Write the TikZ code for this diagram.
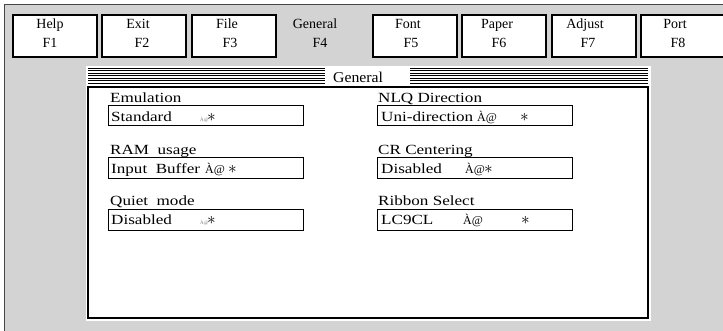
\documentclass[tikz,border=0pt]{standalone}
\usepackage{fontspec}
\setmainfont{Liberation Serif}
\newfontfamily\widefont[FakeStretch=1.22]{Liberation Serif}
\newfontfamily\titlefont[FakeStretch=1.05]{Liberation Serif}
\definecolor{bggray}{RGB}{211,211,211}
\definecolor{framegray}{RGB}{70,70,70}
\definecolor{glyphgray}{RGB}{120,120,120}
\begin{document}
\begin{tikzpicture}[x=1pt,y=-1pt,
  keybox/.style={draw=black, line width=1.5pt, fill=white, minimum width=84pt, minimum height=42pt, inner sep=0pt, anchor=north west},
  keytxt/.style={font=\fontsize{14}{16}\selectfont, anchor=base, inner sep=0pt},
  lbl/.style={font=\widefont\fontsize{14}{16}\selectfont, anchor=base west, inner sep=0pt},
  fieldbox/.style={draw=black, line width=1.3pt, fill=white, minimum width=195pt, minimum height=20.5pt, inner sep=0pt, anchor=north west},
  tinyg/.style={font=\fontsize{5}{6}\selectfont, text=glyphgray, anchor=base west, inner sep=0pt},
  glyph/.style={font=\fontsize{12}{14}\selectfont, anchor=base west, inner sep=0pt},
  starg/.style={font=\fontsize{16}{18}\selectfont, anchor=base west, inner sep=0pt},
  hatch/.style={line width=1pt, black}]
\useasboundingbox (0,0) rectangle (723,330);
\clip (0,0) rectangle (723,330);
% outer frame
\fill[bggray] (4,4) rectangle (740,340);
\draw[line width=1pt, framegray] (4,340) -- (4,4) -- (740,4);
% function keys
\foreach \n/\x/\t/\f/\tx/\fx in {1/12/Help/F1/50/50, 2/101/Exit/F2/138/142, 3/191/File/F3/227/230, 5/372/Font/F5/408/411, 6/461/Paper/F6/497/499, 7/551/Adjust/F7/585/588, 8/640/Port/F8/675/678}{
  \node[keybox] (key\n) at (\x,14) {};
  \node[keytxt] (keyt\n) at (\tx,28) {\t};
  \node[keytxt] (keyf\n) at (\fx,47) {\f};
}
\node[keytxt] (keyt4) at (315,28) {General};
\node[keytxt] (keyf4) at (320,47) {F4};
% dialog
\fill[white] (86,66) rectangle (651,321);
\foreach \y in {68,70.5,...,83.5} \draw[hatch] (88,\y) -- (648,\y);
\node[fill=white, minimum width=85pt, minimum height=18pt, inner sep=0pt, anchor=north west] (titlebox) at (325,68) {};
\node[font=\titlefont\fontsize{15}{17}\selectfont, anchor=base west, inner sep=0pt] (title) at (333,82) {General};
\draw[line width=1.5pt, black] (88,87) rectangle (648,318);
% left column
\node[lbl] (l1) at (110,102) {Emulation};
\node[fieldbox] (f1) at (108,104.5) {};
\node[lbl] (v1) at (111,121.5) {Standard};
\node[tinyg] (g1) at (200,121.5) {À@};
\node[starg] (s1) at (207,121.5) {$\ast$};

\node[lbl] (l2) at (110,154) {RAM\ \ usage};
\node[fieldbox] (f2) at (108,157) {};
\node[lbl] (v2) at (111,173) {Input\ \ Buffer};
\node[glyph] (g2) at (205,173) {À@};
\node[starg] (s2) at (228,173) {$\ast$};

\node[lbl] (l3) at (110,205) {Quiet\ \ mode};
\node[fieldbox] (f3) at (108,209) {};
\node[lbl] (v3) at (111,224.5) {Disabled};
\node[tinyg] (g3) at (200,224.5) {À@};
\node[starg] (s3) at (207,224.5) {$\ast$};
% right column
\node[lbl] (l4) at (378,102) {NLQ Direction};
\node[fieldbox] (f4) at (377,104.5) {};
\node[lbl] (v4) at (381,121.5) {Uni-direction};
\node[glyph] (g4) at (477,121.5) {À@};
\node[starg] (s4) at (520,121.5) {$\ast$};

\node[lbl] (l5) at (378,154) {CR Centering};
\node[fieldbox] (f5) at (377,157) {};
\node[lbl] (v5) at (381,173) {Disabled};
\node[glyph] (g5) at (465,173) {À@};
\node[starg] (s5) at (484,173) {$\ast$};

\node[lbl] (l6) at (378,205) {Ribbon Select};
\node[fieldbox] (f6) at (377,209) {};
\node[lbl] (v6) at (381,224.5) {LC9CL};
\node[glyph] (g6) at (463,224.5) {À@};
\node[starg] (s6) at (521,224.5) {$\ast$};
\end{tikzpicture}
\end{document}
